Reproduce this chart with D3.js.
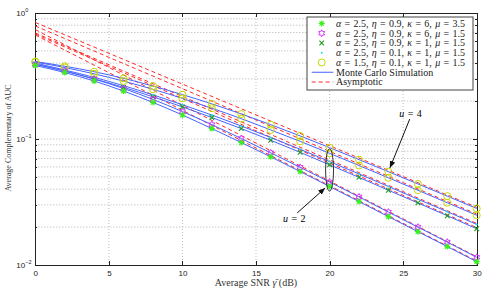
<!DOCTYPE html>
<html>
<head>
<meta charset="utf-8">
<script src="https://cdn.jsdelivr.net/npm/d3@7/dist/d3.min.js"></script>
<style>
body { margin: 0; background: #fff; }
svg text { font-family: "Liberation Serif", "DejaVu Serif", serif; }
.axis text { font-family: "Liberation Sans", Arial, sans-serif; font-size: 8px; fill: #222; }
.axis path, .axis line { stroke: #222; shape-rendering: crispEdges; }
</style>
</head>
<body>
<div id="chart"></div>
<script>
// SNR grid of the simulated points (dB)
var snr = [0, 2, 4, 6, 8, 10, 12, 14, 16, 18, 20, 22, 24, 26, 28, 30];

// Monte Carlo curves (top curve first)
var simA = [0.412, 0.378, 0.342, 0.303, 0.263, 0.225, 0.190, 0.158, 0.130, 0.1058, 0.0854, 0.0686, 0.0550, 0.0440, 0.0352, 0.0281];
var simB = [0.408, 0.369, 0.329, 0.288, 0.248, 0.210, 0.1755, 0.145, 0.118, 0.0959, 0.0770, 0.0616, 0.0492, 0.0392, 0.0312, 0.0248];
var simC = [0.401, 0.353, 0.3085, 0.265, 0.224, 0.187, 0.155, 0.1268, 0.1028, 0.0829, 0.0662, 0.0528, 0.0420, 0.0333, 0.0265, 0.0210];
var simD = [0.394, 0.346, 0.300, 0.257, 0.216, 0.180, 0.148, 0.121, 0.0977, 0.0784, 0.0624, 0.0496, 0.0392, 0.0311, 0.0246, 0.0194];
var simE = [0.390, 0.3465, 0.299, 0.2516, 0.206, 0.165, 0.130, 0.1009, 0.0777, 0.0596, 0.0456, 0.0347, 0.0263, 0.0200, 0.0152, 0.01151];
var simF = [0.383, 0.337, 0.2886, 0.240, 0.195, 0.155, 0.121, 0.0938, 0.0722, 0.0552, 0.0420, 0.0319, 0.0242, 0.0184, 0.0140, 0.01062];

// asymptotic lines (straight on the log axis), end points at 0 and 30 dB
var asymSnr = [0, 30];
var asymA = [0.841, 0.0287];
var asymB = [0.789, 0.0254];
var asymC = [0.694, 0.0214];
var asymD = [0.681, 0.0198];
var asymE = [0.738, 0.01164];
var asymF = [0.669, 0.01076];

var xTicks = [0, 5, 10, 15, 20, 25, 30];
var yTicks = [0.01, 0.1, 1];
var yTickExp = ["\u22122", "\u22121", "0"];

var legendParams = [
    ["2.5", "0.9", "6", "3.5"],
    ["2.5", "0.9", "6", "1.5"],
    ["2.5", "0.9", "1", "1.5"],
    ["2.5", "0.1", "1", "1.5"],
    ["1.5", "0.1", "1", "1.5"]
];

var W = 485, H = 292;
var plotL = 35.3, plotR = 476.7, plotT = 13, plotB = 265;

var blue = "#4563ff";
var red = "#ff2a2a";

var svg = d3.select("#chart").append("svg")
    .attr("width", W)
    .attr("height", H);

var x = d3.scaleLinear().domain([0, 30]).range([plotL, plotR]);
var y = d3.scaleLog().domain([0.01, 1]).range([plotB, plotT]);

// grid
svg.append("g").selectAll("line")
    .data(xTicks.slice(1, -1))
    .enter().append("line")
    .attr("x1", function (d) { return x(d); })
    .attr("x2", function (d) { return x(d); })
    .attr("y1", plotT).attr("y2", plotB)
    .style("stroke", "#bdbdbd")
    .style("stroke-dasharray", "1,2");

svg.append("g").selectAll("line")
    .data(y.ticks().filter(function (d) { return d > 0.01 && d < 1; }))
    .enter().append("line")
    .attr("x1", plotL).attr("x2", plotR)
    .attr("y1", function (d) { return y(d); })
    .attr("y2", function (d) { return y(d); })
    .style("stroke", "#b0b0b0")
    .style("stroke-dasharray", "1,2");

// axes
svg.append("g").attr("class", "axis")
    .attr("transform", "translate(0," + plotB + ")")
    .call(d3.axisBottom(x).tickValues(xTicks).tickSizeInner(-4).tickSizeOuter(0).tickPadding(5));
svg.append("g").attr("class", "axis")
    .attr("transform", "translate(0," + plotT + ")")
    .call(d3.axisTop(x).tickValues(xTicks).tickSizeInner(-4).tickSizeOuter(0).tickFormat(""));

svg.append("g").attr("class", "axis")
    .attr("transform", "translate(" + plotL + ",0)")
    .call(d3.axisLeft(y).tickValues(y.ticks()).tickSizeInner(-2).tickSizeOuter(0).tickFormat(""));
svg.append("g").attr("class", "axis")
    .attr("transform", "translate(" + plotR + ",0)")
    .call(d3.axisRight(y).tickValues(y.ticks()).tickSizeInner(-2).tickSizeOuter(0).tickFormat(""));
svg.append("g").attr("class", "axis")
    .attr("transform", "translate(" + plotL + ",0)")
    .call(d3.axisLeft(y).tickValues(yTicks).tickSizeInner(-4).tickSizeOuter(0).tickFormat(""));
svg.append("g").attr("class", "axis")
    .attr("transform", "translate(" + plotR + ",0)")
    .call(d3.axisRight(y).tickValues(yTicks).tickSizeInner(-4).tickSizeOuter(0).tickFormat(""));

// y tick labels 10^k
for (var i = 0; i < yTicks.length; i++) {
    var t = svg.append("text")
        .attr("x", plotL - 19)
        .attr("y", y(yTicks[i]) + 3)
        .style("font-family", "Liberation Sans, Arial, sans-serif")
        .style("font-size", "8px")
        .style("fill", "#222")
        .text("10");
    t.append("tspan")
        .attr("dy", -4)
        .style("font-size", "5.5px")
        .text(yTickExp[i]);
}

// axis titles
svg.append("text")
    .attr("x", (plotL + plotR) / 2)
    .attr("y", 286)
    .attr("text-anchor", "middle")
    .style("font-size", "10px")
    .style("fill", "#333")
    .html("Average SNR <tspan font-style='italic'>\u03b3\u0304</tspan> (dB)");

svg.append("text")
    .attr("transform", "translate(11,138) rotate(-90)")
    .attr("text-anchor", "middle")
    .style("font-size", "8px")
    .style("fill", "#333")
    .text("Average Complementary of AUC");

// curves
var line = d3.line()
    .x(function (d) { return x(d[0]); })
    .y(function (d) { return y(d[1]); })
    .curve(d3.curveMonotoneX);

var sims = [simA, simB, simC, simD, simE, simF];
var asyms = [asymA, asymB, asymC, asymD, asymE, asymF];

for (var i = 0; i < asyms.length; i++) {
    svg.append("path")
        .attr("d", d3.line()
            .x(function (d) { return x(d[0]); })
            .y(function (d) { return y(d[1]); })(d3.zip(asymSnr, asyms[i])))
        .style("fill", "none")
        .style("stroke", red)
        .style("stroke-width", 1)
        .style("stroke-dasharray", "4,3");
}

for (var i = 0; i < sims.length; i++) {
    svg.append("path")
        .attr("d", line(d3.zip(snr, sims[i])))
        .style("fill", "none")
        .style("stroke", blue)
        .style("stroke-width", 1);
}

// marker shapes
function hexagram(r) {
    var p = [];
    for (var k = 0; k < 12; k++) {
        var a = (k * 30 - 90) * Math.PI / 180;
        var rr = k % 2 === 0 ? r : r * 0.58;
        p.push([rr * Math.cos(a), rr * Math.sin(a)]);
    }
    return "M" + p.join("L") + "Z";
}

function drawMarker(g, kind, cx, cy) {
    if (kind === "circle") {
        g.append("circle").attr("cx", cx).attr("cy", cy).attr("r", 3.5)
            .style("fill", "none").style("stroke", "#c5d800").style("stroke-width", 1);
    } else if (kind === "dot") {
        g.append("circle").attr("cx", cx).attr("cy", cy).attr("r", 1)
            .style("fill", "#22dddd");
    } else if (kind === "x") {
        g.append("path")
            .attr("d", "M-2.3,-2.3L2.3,2.3M-2.3,2.3L2.3,-2.3")
            .attr("transform", "translate(" + cx + "," + cy + ")")
            .style("stroke", "#1f9a1f").style("stroke-width", 1.1).style("fill", "none");
    } else if (kind === "hex") {
        g.append("path")
            .attr("d", hexagram(3.4))
            .attr("transform", "translate(" + cx + "," + cy + ")")
            .style("stroke", "#d633ff").style("stroke-width", 1).style("fill", "none");
    } else if (kind === "star") {
        g.append("path")
            .attr("d", "M-3,0L3,0M0,-3L0,3M-2.2,-2.2L2.2,2.2M-2.2,2.2L2.2,-2.2")
            .attr("transform", "translate(" + cx + "," + cy + ")")
            .style("stroke", "#3cf01e").style("stroke-width", 1.2).style("fill", "none");
    }
}

var simMarkers = ["circle", "circle", "dot", "x", "hex", "star"];
var mg = svg.append("g");
for (var i = 0; i < sims.length; i++) {
    for (var j = 0; j < snr.length; j++) {
        drawMarker(mg, simMarkers[i], x(snr[j]), y(sims[i][j]));
    }
}

// annotations
svg.append("defs").append("marker")
    .attr("id", "arrow")
    .attr("viewBox", "0 0 10 10")
    .attr("refX", 10).attr("refY", 5)
    .attr("markerWidth", 7).attr("markerHeight", 7)
    .attr("orient", "auto")
    .append("path").attr("d", "M0,1L10,5L0,9Z").style("fill", "#111");

svg.append("ellipse")
    .attr("cx", x(20)).attr("cy", y(0.0568))
    .attr("rx", 4)
    .attr("ry", (y(0.0385) - y(0.0834)) / 2)
    .style("fill", "none").style("stroke", "#333").style("stroke-width", 1);

svg.append("line")
    .attr("x1", x(17.8)).attr("y1", y(0.0259))
    .attr("x2", x(19.7)).attr("y2", y(0.0408))
    .style("stroke", "#111").style("stroke-width", 1)
    .attr("marker-end", "url(#arrow)");

svg.append("line")
    .attr("x1", x(25.45)).attr("y1", y(0.144))
    .attr("x2", x(24.1)).attr("y2", y(0.0589))
    .style("stroke", "#111").style("stroke-width", 1)
    .attr("marker-end", "url(#arrow)");

svg.append("text")
    .attr("x", x(17.6)).attr("y", y(0.0232) + 3.5)
    .attr("text-anchor", "middle")
    .style("font-size", "10px")
    .style("word-spacing", "1px")
    .html("<tspan font-style='italic'>u</tspan> = 2");

svg.append("text")
    .attr("x", x(25.5)).attr("y", y(0.158) + 3.5)
    .attr("text-anchor", "middle")
    .style("font-size", "10px")
    .style("word-spacing", "1px")
    .html("<tspan font-style='italic'>u</tspan> = 4");

// legend
var lg = svg.append("g");
lg.append("rect")
    .attr("x", 307).attr("y", 17)
    .attr("width", 166).attr("height", 73)
    .style("fill", "#fff").style("stroke", "#444").style("stroke-width", 1);

var legendMarkers = ["star", "hex", "x", "dot", "circle"];
var rowY = function (k) { return 23.5 + k * 9.75; };

for (var k = 0; k < legendParams.length; k++) {
    drawMarker(lg, legendMarkers[k], 321.7, rowY(k));
    var p = legendParams[k];
    lg.append("text")
        .attr("x", 336).attr("y", rowY(k) + 3.3)
        .style("font-size", "10px")
        .style("word-spacing", "0.8px")
        .style("fill", "#222")
        .html("<tspan font-style='italic'>\u03b1</tspan> = " + p[0] +
            ", <tspan font-style='italic'>\u03b7</tspan> = " + p[1] +
            ", <tspan font-style='italic'>\u03ba</tspan> = " + p[2] +
            ", <tspan font-style='italic'>\u03bc</tspan> = " + p[3]);
}

lg.append("line")
    .attr("x1", 311.7).attr("x2", 333.3)
    .attr("y1", rowY(5)).attr("y2", rowY(5))
    .style("stroke", blue).style("stroke-width", 1);
lg.append("text")
    .attr("x", 336).attr("y", rowY(5) + 3.3)
    .style("font-size", "10px").style("fill", "#222")
    .text("Monte Carlo Simulation");

lg.append("line")
    .attr("x1", 311.7).attr("x2", 333.3)
    .attr("y1", rowY(6)).attr("y2", rowY(6))
    .style("stroke", red).style("stroke-width", 1)
    .style("stroke-dasharray", "4,3");
lg.append("text")
    .attr("x", 336).attr("y", rowY(6) + 3.3)
    .style("font-size", "10px").style("fill", "#222")
    .text("Asymptotic");
</script>
</body>
</html>
